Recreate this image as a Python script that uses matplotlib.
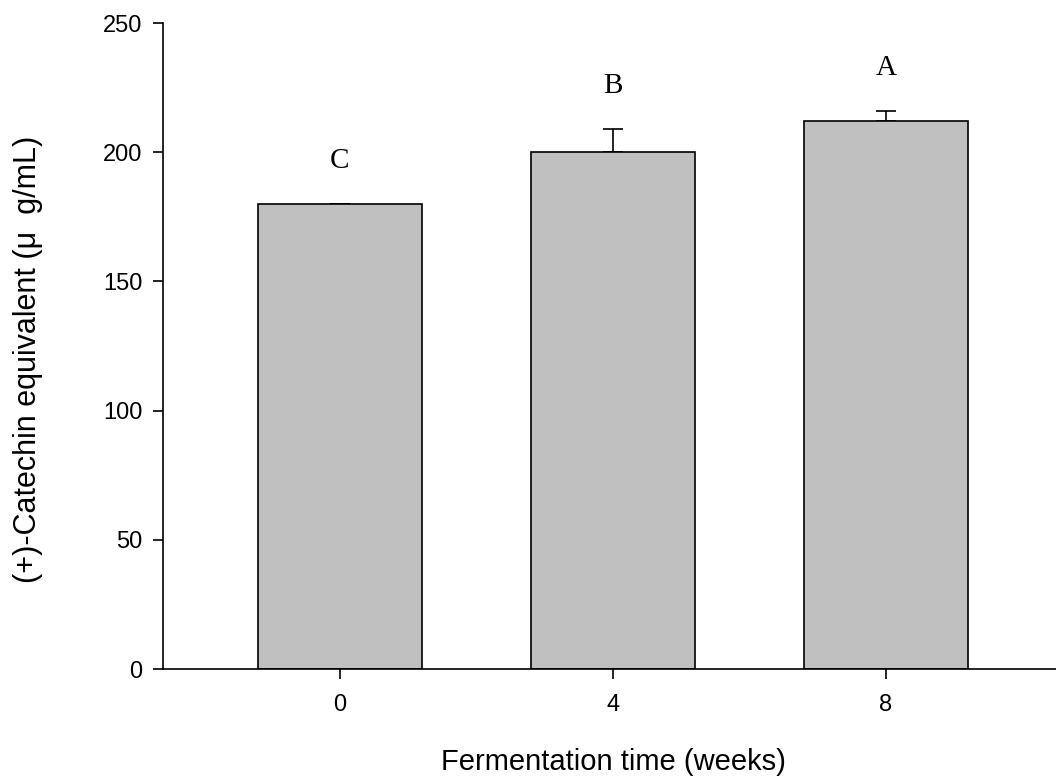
import matplotlib.pyplot as plt
import numpy as np

weeks = ["0", "4", "8"]
catechin = [180.0, 200.0, 212.0]
sd = [0.0, 9.0, 4.0]
groups = ["C", "B", "A"]

plt.rcParams['font.family'] = ['Liberation Sans', 'DejaVu Sans']

fig = plt.figure(figsize=(10.56, 7.78), dpi=100)
ax = fig.add_axes([163/1056, 1-669/778, 1-163/1056, (669-23)/778])

x = np.arange(len(weeks))
ax.bar(x, catechin, width=0.6, color='#c0c0c0', edgecolor='black', linewidth=1.2, zorder=2)
# only the upper half of the error bars is drawn
ax.errorbar(x, catechin, yerr=[[0]*len(sd), sd], fmt='none', ecolor='black',
            elinewidth=1.2, capsize=7, capthick=1.2, zorder=1)

# significance letters above each bar
for xi, top, e, g in zip(x, catechin, sd, groups):
    ax.text(xi, top + e + 14, g, ha='center', va='baseline',
            fontsize=21, family=['Liberation Serif'])

ax.set_xlim(-0.648, 2.623)
ax.set_ylim(0, 250)
ax.set_xticks(x)
ax.set_xticklabels(weeks)
ax.set_yticks([0, 50, 100, 150, 200, 250])
ax.spines['top'].set_visible(False)
ax.spines['right'].set_visible(False)
ax.spines['left'].set_linewidth(1.2)
ax.spines['bottom'].set_linewidth(1.2)
ax.tick_params(axis='y', length=7, width=1.2, pad=8, labelsize=17)
ax.tick_params(axis='x', length=7, width=1.2, pad=11, labelsize=17)

fig.text(613/1056, 1-762/778, "Fermentation time (weeks)", fontsize=21,
         ha='center', va='center')
fig.text(28/1056, 1-359/778, "(+)-Catechin equivalent (\u03bc  g/mL)", fontsize=22,
         ha='center', va='center', rotation=90)

fig.savefig("out.png", dpi=100)
